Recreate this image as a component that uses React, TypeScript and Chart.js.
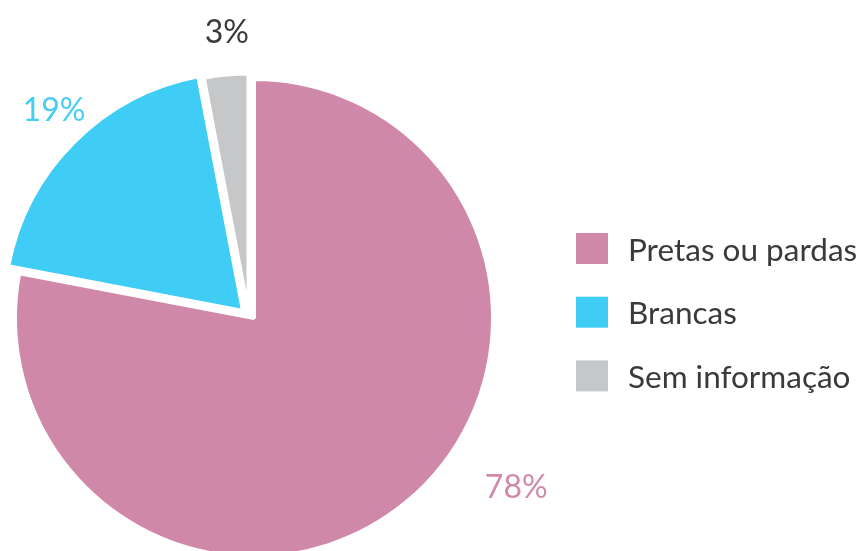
import { useEffect, useRef } from "react";
import { Chart, registerables } from "chart.js";

Chart.register(...registerables);

// ---- data ----
const categories = ["Pretas ou pardas", "Brancas", "Sem informação"];
const values = [78, 19, 3];
const percentLabels = ["78%", "19%", "3%"];

// ---- styles ----
const SLICE_COLORS = ["#CF88A8", "#3FCDF5", "#C6C7C9"];
const LABEL_COLORS = ["#D08BAB", "#45CDF4", "#3A3A3A"];
const TEXT_COLOR = "#3A3A3A";
const FONT = "Lato, 'Open Sans', sans-serif";
// explode shift of each slice, px [dx, dy]
const SLICE_SHIFT: [number, number][] = [
  [0, 0],
  [-11, -7],
  [-5.5, -5.5],
];
// label placement: angle (deg, clockwise from 12 o'clock), distance from pie centre
const LABEL_POLAR: [number, number][] = [
  [122.8, 312],
  [316.2, 289],
  [354.6, 288],
];

const W = 864;
const H = 640;

const shiftPlugin = {
  id: "sliceShift",
  afterUpdate(chart: any) {
    const meta = chart.getDatasetMeta(0);
    meta.data.forEach((el: any, i: number) => {
      const s = SLICE_SHIFT[i] || [0, 0];
      el.x += s[0];
      el.y += s[1];
    });
  },
};

const annotatePlugin = {
  id: "annotate",
  afterDraw(chart: any) {
    const ctx = chart.ctx as CanvasRenderingContext2D;
    const ca = chart.chartArea;
    const cx = (ca.left + ca.right) / 2;
    const cy = (ca.top + ca.bottom) / 2;
    ctx.save();
    // percentage labels
    const pSize = 32;
    ctx.font = `${pSize}px ${FONT}`;
    ctx.textAlign = "center";
    ctx.textBaseline = "alphabetic";
    percentLabels.forEach((t, i) => {
      const [ang, dist] = LABEL_POLAR[i];
      const a = (ang * Math.PI) / 180;
      const x = cx + Math.sin(a) * dist;
      const y = cy - Math.cos(a) * dist;
      ctx.fillStyle = LABEL_COLORS[i];
      ctx.fillText(t, x, y + (pSize * 0.7165) / 2);
    });
    // legend
    const boxX = 576;
    const boxW = 32;
    const boxH = 31;
    const firstY = 248.5;
    const step = 63.7;
    const lSize = 31.5;
    ctx.font = `${lSize}px ${FONT}`;
    ctx.textAlign = "left";
    categories.forEach((c, i) => {
      const yc = firstY + i * step;
      ctx.fillStyle = SLICE_COLORS[i];
      ctx.fillRect(boxX, yc - boxH / 2, boxW, boxH);
      ctx.fillStyle = TEXT_COLOR;
      ctx.fillText(c, 628, yc + (lSize * 0.7165) / 2 + 1);
    });
    ctx.restore();
  },
};

export default function App() {
  const ref = useRef<HTMLCanvasElement>(null);
  useEffect(() => {
    if (!ref.current) return;
    const chart = new Chart(ref.current, {
      type: "pie",
      data: {
        labels: categories,
        datasets: [
          {
            data: values,
            backgroundColor: SLICE_COLORS,
            borderColor: "#FFFFFF",
            borderWidth: 4,
          },
        ],
      },
      options: {
        responsive: false,
        animation: false,
        devicePixelRatio: 1,
        radius: 239,
        rotation: 0,
        layout: { padding: { left: 0, right: W - 2 * 254, top: 0, bottom: H - 2 * 318 } },
        plugins: {
          legend: { display: false },
          tooltip: { enabled: false },
        },
        events: [],
      },
      plugins: [shiftPlugin, annotatePlugin],
    } as any);
    return () => chart.destroy();
  }, []);
  return (
    <div style={{ position: "absolute", left: 0, top: 0, width: W, height: H, background: "#fff" }}>
      <canvas ref={ref} width={W} height={H} style={{ width: W, height: H, display: "block" }} />
    </div>
  );
}
